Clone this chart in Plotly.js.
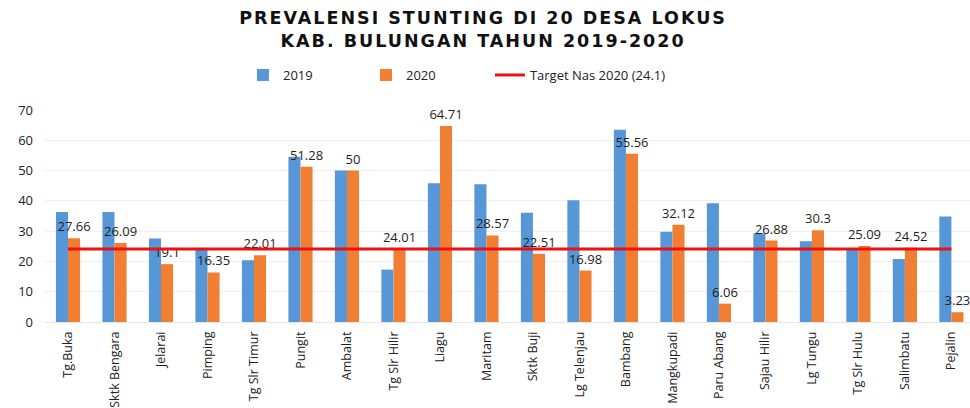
<!DOCTYPE html>
<html><head><meta charset="utf-8">
<script src="https://cdn.plot.ly/plotly-3.0.1.min.js"></script>
<style>html,body{margin:0;padding:0;background:#fff}#chart{width:970px;height:408px}
.gtitle{letter-spacing:2px}</style>
</head><body><div id="chart"></div>
<script>
const categories = ["Tg.Buka","Sktk Bengara","Jelarai","Pimping","Tg Slr Timur","Pungit","Ambalat","Tg Slr Hilir","Liagu","Maritam","Sktk Buji","Lg Telenjau","Bambang","Mangkupadi","Paru Abang","Sajau Hilir","Lg Tungu","Tg Slr Hulu","Salimbatu","Pejalin"];
const values2019 = [36.3,36.3,27.6,23.8,20.4,54.6,50,17.3,45.8,45.5,36.1,40.2,63.5,29.8,39.2,29.3,26.7,24.3,20.8,34.8];
const values2020 = [27.66,26.09,19.1,16.35,22.01,51.28,50,24.01,64.71,28.57,22.51,16.98,55.56,32.12,6.06,26.88,30.3,25.09,24.52,3.23];
const targetValue = 24.1;
const targetLine = categories.map(() => targetValue);

const font = "'Open Sans', 'Liberation Sans', sans-serif";
const traces = [
  {type:"bar", name:"2019", x:categories, y:values2019, marker:{color:"#5797d7"}, hoverinfo:"y", legend:"legend"},
  {type:"bar", name:"2020", x:categories, y:values2020, marker:{color:"#f07f33"},
   text:values2020.map(String), textposition:"outside", constraintext:"none", textangle:0, cliponaxis:false,
   textfont:{family:font, size:13, color:"#1e1e1e"}, legend:"legend2"},
  {type:"scatter", mode:"lines", name:"Target Nas 2020 (24.1)", x:categories, y:targetLine, line:{color:"#ee1111", width:3}, legend:"legend3"}
];
const legendBase = {orientation:"h", xanchor:"left", y:1.165, yanchor:"middle", bgcolor:"rgba(0,0,0,0)",
  font:{family:font, size:13, color:"#222"}};
const layout = {
  width:970, height:408,
  margin:{l:45, r:0, t:110, b:86},
  paper_bgcolor:"#fff", plot_bgcolor:"#fff",
  title:{text:"PREVALENSI STUNTING DI 20 DESA LOKUS<br>KAB. BULUNGAN TAHUN 2019-2020", x:0.498, xanchor:"center", y:0.94, yanchor:"top", yref:"container",
    font:{family:"'DejaVu Sans', sans-serif", size:17.5, color:"#111", weight:"bold"}},
  barmode:"group", bargap:0.48, bargroupgap:0,
  showlegend:true,
  legend:Object.assign({}, legendBase, {x:0.214}),
  legend2:Object.assign({}, legendBase, {x:0.347}),
  legend3:Object.assign({}, legendBase, {x:0.481}),
  xaxis:{range:[-0.495,19.4], tickangle:-90, showgrid:false, showline:false, zeroline:false, ticks:"",
    ticklabelstandoff:6, tickfont:{family:font, size:12.5, color:"#222"}, fixedrange:true},
  yaxis:{range:[0,70], dtick:10, showgrid:true, gridcolor:"#f0f0f0", zeroline:true, zerolinecolor:"#e6e6e6", ticks:"",
    ticklabelstandoff:11, tickfont:{family:font, size:13, color:"#222"}, fixedrange:true}
};
Plotly.newPlot("chart", traces, layout, {displayModeBar:false, staticPlot:true});
</script></body></html>
